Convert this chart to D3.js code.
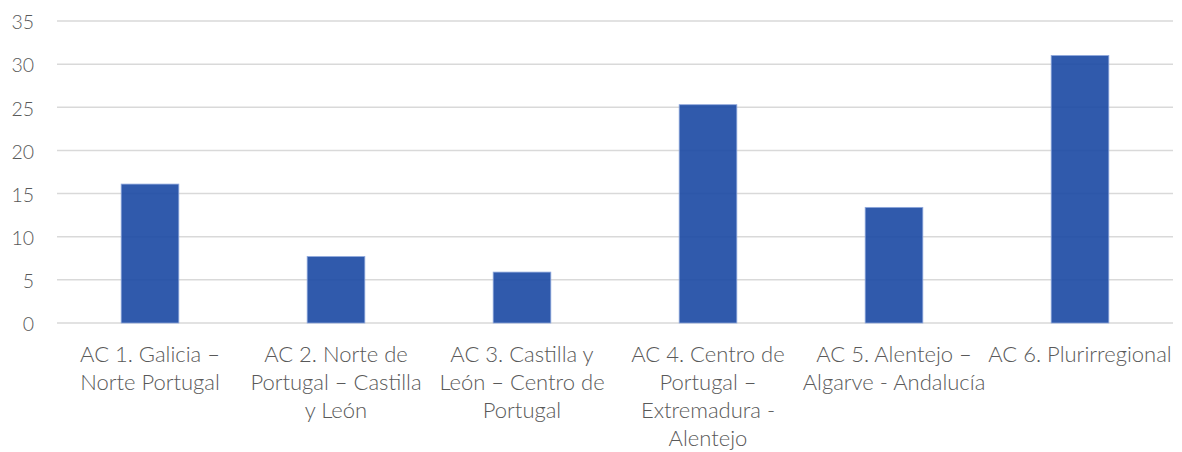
<!DOCTYPE html>
<html>
<head>
<meta charset="utf-8">
<script src="https://cdn.jsdelivr.net/npm/d3@7"></script>
<style>
  html, body { margin: 0; padding: 0; background: #fff; }
  svg { display: block; }
  text { font-family: Lato, "Open Sans", sans-serif; font-weight: 300; fill: #595959; }
</style>
</head>
<body>
<svg width="1182" height="452"></svg>
<script>
// categories, line breaks as in the original axis
var categories = [
  "AC 1. Galicia –\nNorte Portugal",
  "AC 2. Norte de\nPortugal – Castilla\ny León",
  "AC 3. Castilla y\nLeón – Centro de\nPortugal",
  "AC 4. Centro de\nPortugal –\nExtremadura -\nAlentejo",
  "AC 5. Alentejo –\nAlgarve - Andalucía",
  "AC 6. Plurirregional"
]
var values = [16.1, 7.7, 5.9, 25.3, 13.4, 31.0]
var yTicks = [0, 5, 10, 15, 20, 25, 30, 35]

var width = 1182
var height = 452
var margin = {top: 21, right: 9, bottom: 130, left: 57}

var svg = d3.select("svg")

var x = d3.scaleBand()
  .domain(categories)
  .range([margin.left, width - margin.right])
  .paddingInner(0.69)
  .paddingOuter(0.345)

var y = d3.scaleLinear()
  .domain([0, 35])
  .range([height - margin.bottom + 1, margin.top])

// gridlines
svg.append("g")
  .selectAll("line")
  .data(yTicks)
  .join("line")
  .attr("x1", margin.left)
  .attr("x2", width - margin.right)
  .attr("y1", d => y(d))
  .attr("y2", d => y(d))
  .attr("stroke", "#d9d9d9")
  .attr("stroke-width", 1.5)

// y labels
var yAxis = svg.append("g")
  .attr("transform", `translate(34,1.5)`)
  .call(d3.axisLeft(y).tickValues(yTicks).tickSize(0).tickPadding(0))
yAxis.select(".domain").remove()
yAxis.selectAll("text")
  .attr("font-size", 19.5)
  .attr("font-family", null)
  .attr("fill", "#595959")

// bars
svg.append("g")
  .selectAll("rect")
  .data(values)
  .join("rect")
  .attr("x", (d, i) => x(categories[i]))
  .attr("y", d => y(d))
  .attr("width", x.bandwidth())
  .attr("height", d => y(0) - y(d))
  .attr("fill", "#1948a3")
  .attr("fill-opacity", 0.9)
  .attr("stroke", "#8fa8dc")
  .attr("stroke-width", 0.8)

// x labels
var xAxis = svg.append("g")
  .attr("transform", `translate(0,${y(0)})`)
  .call(d3.axisBottom(x).tickSize(0).tickFormat(""))
xAxis.select(".domain").remove()

var labels = svg.append("g")
  .selectAll("text")
  .data(categories)
  .join("text")
  .attr("text-anchor", "middle")
  .attr("font-size", 22)
  .attr("transform", d => `translate(${x(d) + x.bandwidth() / 2},362)`)

labels.selectAll("tspan")
  .data(d => d.split("\n"))
  .join("tspan")
  .attr("x", 0)
  .attr("y", (d, i) => i * 28)
  .text(d => d)
</script>
</body>
</html>
